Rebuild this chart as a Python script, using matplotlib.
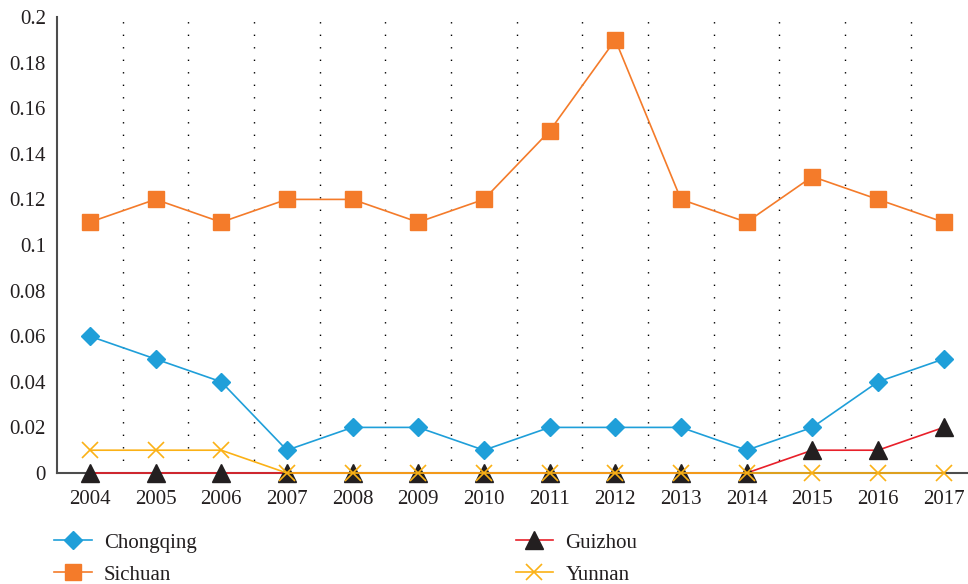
import matplotlib
matplotlib.use("Agg")
import matplotlib.pyplot as plt
import numpy as np

years = ["2004", "2005", "2006", "2007", "2008", "2009", "2010",
         "2011", "2012", "2013", "2014", "2015", "2016", "2017"]
chongqing = [0.06, 0.05, 0.04, 0.01, 0.02, 0.02, 0.01, 0.02, 0.02, 0.02, 0.01, 0.02, 0.04, 0.05]
sichuan = [0.11, 0.12, 0.11, 0.12, 0.12, 0.11, 0.12, 0.15, 0.19, 0.12, 0.11, 0.13, 0.12, 0.11]
guizhou = [0, 0, 0, 0, 0, 0, 0, 0, 0, 0, 0, 0.01, 0.01, 0.02]
yunnan = [0.01, 0.01, 0.01, 0, 0, 0, 0, 0, 0, 0, 0, 0, 0, 0]
yticks = [0, 0.02, 0.04, 0.06, 0.08, 0.1, 0.12, 0.14, 0.16, 0.18, 0.2]
ytick_labels = ["0", "0.02", "0.04", "0.06", "0.08", "0.1", "0.12", "0.14", "0.16", "0.18", "0.2"]

plt.rcParams['font.family'] = ['Liberation Serif', 'DejaVu Serif']

fig = plt.figure(figsize=(9.68, 5.84), dpi=100)
ax = fig.add_axes([57/968, 111/584, (968-57)/968, (473-17)/584])

x = np.arange(len(years))
ax.plot(x, chongqing, color='#1f9fd9', lw=1.2, marker='D', ms=9, mfc='#1f9fd9', mec='#1f9fd9',
        label='Chongqing', zorder=3, clip_on=False)
ax.plot(x, sichuan, color='#f47b2a', lw=1.2, marker='s', ms=11, mfc='#f47b2a', mec='#f47b2a',
        label='Sichuan', zorder=3, clip_on=False)
ax.plot(x, guizhou, color='#e8202a', lw=1.2, marker='^', ms=13, mfc='#231f20', mec='#231f20',
        label='Guizhou', zorder=4, clip_on=False)
ax.plot(x, yunnan, color='#fbb116', lw=1.2, marker='x', ms=12, mew=1.2, mfc='#fbb116', mec='#fbb116',
        label='Yunnan', zorder=5, clip_on=False)

for b in np.arange(0.5, len(years) - 1, 1.0):
    ax.axvline(b, color='black', lw=1.0, ls=(0, (1, 8)), zorder=1)

ax.set_xlim(-0.5, 13.37)
ax.set_ylim(0, 0.2)
ax.set_xticks(x)
ax.set_xticklabels(years)
ax.set_yticks(yticks)
ax.set_yticklabels(ytick_labels)
ax.tick_params(axis='both', length=0, labelsize=15, colors='#231f20')
ax.tick_params(axis='x', pad=12)
ax.tick_params(axis='y', pad=8)
for s in ['top', 'right']:
    ax.spines[s].set_visible(False)
for s in ['left', 'bottom']:
    ax.spines[s].set_color('#4d4d4d')
    ax.spines[s].set_linewidth(1.5)

fig.legend(loc='upper left', bbox_to_anchor=(54/968, 1 - 533/584), ncol=2, frameon=False,
           fontsize=15, handlelength=1.8, columnspacing=15.3, labelspacing=0.6,
           handletextpad=0.6, borderpad=0, borderaxespad=0, labelcolor='#231f20')

fig.savefig("out.png", dpi=100)
